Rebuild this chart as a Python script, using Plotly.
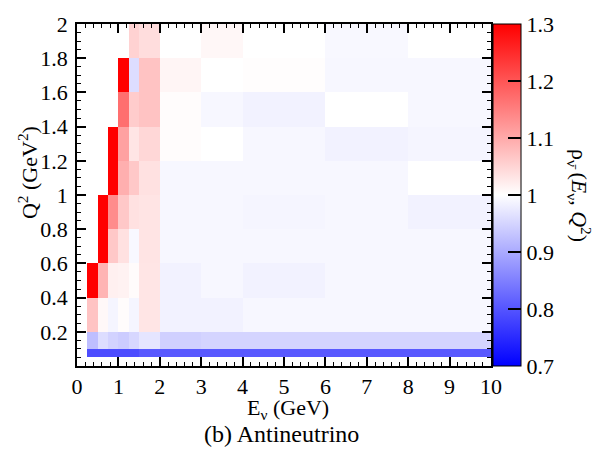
import numpy as np
import plotly.graph_objects as go

# Bin edges
e_edges = [0, 0.25, 0.5, 0.75, 1.0, 1.25, 1.5, 2, 3, 4, 6, 8, 10]
q2_edges = [0, 0.05, 0.1, 0.2, 0.4, 0.6, 0.8, 1.0, 1.2, 1.4, 1.6, 1.8, 2.0]

nan = np.nan
# Ratio per (Q2 row, E column); rows ordered by increasing Q2
rho = [
    [nan] * 12,
    [nan, 0.79, 0.79, 0.79, 0.79, 0.79, 0.805, 0.805, 0.805, 0.805, 0.805, 0.805],
    [nan, 0.924, 0.96, 0.947, 0.94, 0.953, 0.97, 0.945, 0.95, 0.95, 0.95, 0.95],
    [nan, 1.07, 1.008, 0.988, 1.003, 0.988, 1.03, 0.985, 0.985, 0.99, 0.99, 0.99],
    [nan, 1.35, 1.088, 1.018, 1.015, 1.005, 1.03, 0.985, 0.99, 0.985, 0.99, 0.99],
    [nan, nan, 1.36, 1.065, 1.035, 0.992, 1.032, 0.99, 0.99, 0.99, 0.99, 0.99],
    [nan, nan, 1.38, 1.135, 1.065, 1.035, 1.032, 0.99, 0.99, 0.988, 0.99, 0.985],
    [nan, nan, nan, 1.4, 1.094, 1.065, 1.035, 0.99, 0.99, 0.99, 0.99, 1.0],
    [nan, nan, nan, 1.42, 1.11, 1.03, 1.047, 1.003, 1.0, 0.99, 0.985, 0.988],
    [nan, nan, nan, nan, 1.17, 1.06, 1.07, 1.003, 0.99, 0.985, 1.0, 0.99],
    [nan, nan, nan, nan, 1.45, 0.96, 1.07, 1.012, 1.0, 1.002, 0.99, 0.99],
    [nan, nan, nan, nan, nan, 1.053, 1.04, 1.0, 1.01, 1.0, 0.992, 1.0],
]

y_tickvals = [0.2, 0.4, 0.6, 0.8, 1.0, 1.2, 1.4, 1.6, 1.8, 2.0]
y_ticktext = ["0.2", "0.4", "0.6", "0.8", "1", "1.2", "1.4", "1.6", "1.8", "2"]
z_tickvals = [0.7, 0.8, 0.9, 1.0, 1.1, 1.2, 1.3]
z_ticktext = ["0.7", "0.8", "0.9", "1", "1.1", "1.2", "1.3"]

FONT = "Liberation Serif"

fig = go.Figure(
    go.Heatmap(
        x=e_edges,
        y=q2_edges,
        z=rho,
        zmin=0.7,
        zmax=1.3,
        colorscale=[[0, "rgb(0,0,255)"], [0.5, "rgb(255,255,255)"], [1, "rgb(255,0,0)"]],
        hoverongaps=False,
        colorbar=dict(
            x=1.005,
            xanchor="left",
            xpad=0,
            y=0.5,
            yanchor="middle",
            len=1,
            lenmode="fraction",
            ypad=0,
            thickness=28,
            outlinecolor="black",
            outlinewidth=1,
            ticks="inside",
            ticklen=13,
            tickwidth=1.5,
            tickcolor="black",
            tickvals=z_tickvals,
            ticktext=z_ticktext,
            tickfont=dict(family=FONT, size=22, color="black"),
        ),
    )
)

axis_common = dict(
    showgrid=False,
    zeroline=False,
    showline=True,
    linecolor="black",
    linewidth=1.5,
    mirror="allticks",
    ticks="inside",
    tickcolor="black",
    tickwidth=1.5,
    ticklen=9,
    tickfont=dict(family=FONT, size=22, color="black"),
)

fig.update_xaxes(
    range=[0, 10],
    tickmode="linear",
    tick0=0,
    dtick=1,
    minor=dict(dtick=0.2, ticks="inside", ticklen=4.5, tickcolor="black", tickwidth=1),
    **axis_common,
)
fig.update_yaxes(
    range=[0, 2],
    tickvals=y_tickvals,
    ticktext=y_ticktext,
    minor=dict(dtick=0.05, ticks="inside", ticklen=4.5, tickcolor="black", tickwidth=1),
    ticklabelstandoff=3,
    **axis_common,
)

fig.update_layout(
    width=598,
    height=455,
    margin=dict(l=77, r=107, t=14, b=89),
    paper_bgcolor="white",
    plot_bgcolor="white",
    font=dict(family=FONT, color="black"),
    annotations=[
        dict(
            text="E<sub>ν</sub> (GeV)",
            xref="paper", yref="paper",
            x=0.51, y=-0.125,
            xanchor="center", yanchor="middle",
            showarrow=False,
            font=dict(family=FONT, size=22),
        ),
        dict(
            text="(b) Antineutrino",
            xref="paper", yref="paper",
            x=0.495, y=-0.2,
            xanchor="center", yanchor="middle",
            showarrow=False,
            font=dict(family=FONT, size=24),
        ),
        dict(
            text="Q<sup>2</sup> (GeV<sup>2</sup>)",
            xref="paper", yref="paper",
            x=-0.12, y=0.565,
            xanchor="center", yanchor="middle",
            textangle=-90,
            showarrow=False,
            font=dict(family=FONT, size=22),
        ),
        dict(
            text="ρ<sub>ν̄</sub> (<i>E</i><sub>ν</sub>, <i>Q</i><sup>2</sup>)",
            xref="paper", yref="paper",
            x=1.215, y=0.5,
            xanchor="center", yanchor="middle",
            textangle=90,
            showarrow=False,
            font=dict(family=FONT, size=22),
        ),
    ],
)

fig.write_html("out.html")
